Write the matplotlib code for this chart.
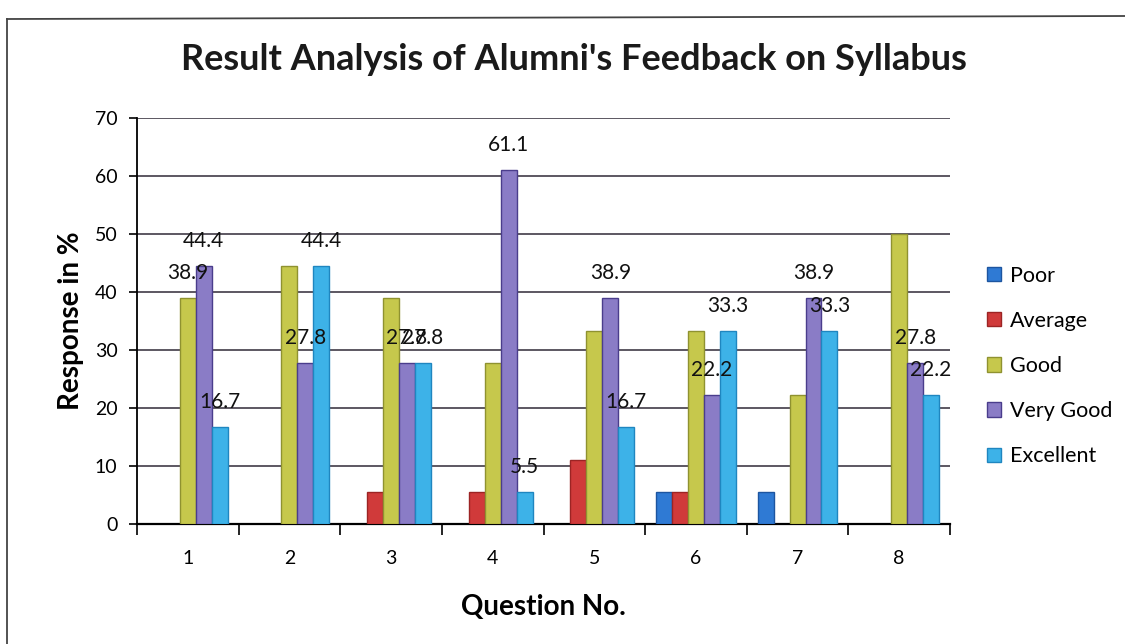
import matplotlib
matplotlib.use('Agg')
import matplotlib.pyplot as plt
from matplotlib.lines import Line2D
from matplotlib.patches import Patch

# ---------------- data ----------------
questions = ['1', '2', '3', '4', '5', '6', '7', '8']
series_names = ['Poor', 'Average', 'Good', 'Very Good', 'Excellent']
poor = [0, 0, 0, 0, 0, 5.5, 5.5, 0]
average = [0, 0, 5.5, 5.5, 11.1, 5.5, 0, 0]
good = [38.9, 44.4, 38.9, 27.8, 33.3, 33.3, 22.2, 50.0]
very_good = [44.4, 27.8, 27.8, 61.1, 38.9, 22.2, 38.9, 27.8]
excellent = [16.7, 44.4, 27.8, 5.5, 16.7, 33.3, 33.3, 22.2]
y_ticks = [0, 10, 20, 30, 40, 50, 60, 70]
# (question index, series name) pairs that carry a data label
labelled = [(0, 'Good'), (0, 'Very Good'), (0, 'Excellent'),
            (1, 'Very Good'), (1, 'Excellent'),
            (2, 'Very Good'), (2, 'Excellent'),
            (3, 'Very Good'), (3, 'Excellent'),
            (4, 'Very Good'), (4, 'Excellent'),
            (5, 'Very Good'), (5, 'Excellent'),
            (6, 'Very Good'), (6, 'Excellent'),
            (7, 'Very Good'), (7, 'Excellent')]

title = "Result Analysis of Alumni's Feedback on Syllabus"
x_label = 'Question No.'
y_label = 'Response in %'

# ---------------- style ----------------
values = {'Poor': poor, 'Average': average, 'Good': good,
          'Very Good': very_good, 'Excellent': excellent}
colors = {'Poor': '#2f7ad4', 'Average': '#d03a3a', 'Good': '#c6c84c',
          'Very Good': '#8a7cc6', 'Excellent': '#3db2e8'}
edges = {'Poor': '#1d55a0', 'Average': '#9c2424', 'Good': '#8f9230',
         'Very Good': '#4a3d8c', 'Excellent': '#1f86c0'}

FONT = 'Lato'
plt.rcParams['font.family'] = [FONT, 'DejaVu Sans']

W, H = 1125, 644
fig = plt.figure(figsize=(W / 100, H / 100), dpi=100)
fig.patch.set_facecolor('white')

ax = fig.add_axes([137 / W, 1 - 524 / H, 813 / W, 406 / H])

n = len(questions)
bw = 0.157
for k, name in enumerate(series_names):
    xs = [i + (k - 2) * bw for i in range(n)]
    lws = [1.0 if v > 0 else 0 for v in values[name]]
    ax.bar(xs, values[name], width=bw, color=colors[name],
           edgecolor=edges[name], linewidth=lws, zorder=3)

for qi, name in labelled:
    k = series_names.index(name)
    x = qi + (k - 2) * bw
    v = values[name][qi]
    ax.annotate(f'{v:.1f}', xy=(x, v), xytext=(0, 25), textcoords='offset pixels',
                ha='center', va='center', fontsize=15, color='#111111', zorder=5)

ax.set_xlim(-0.5, n - 0.5)
ax.set_ylim(0, 70)
ax.set_yticks(y_ticks)
ax.set_yticklabels([str(t) for t in y_ticks], fontsize=14)
ax.set_xticks(range(n))
ax.set_xticklabels(questions, fontsize=14)
ax.set_xticks([i + 0.5 for i in range(-1, n)], minor=True)
ax.tick_params(axis='x', which='major', length=0, pad=19)
ax.tick_params(axis='x', which='minor', length=8, width=1.2, direction='out')
ax.tick_params(axis='y', which='major', length=6, width=1.2, pad=8)

ax.yaxis.grid(True, color='#4f4a55', linewidth=1.3, zorder=0)
ax.set_axisbelow(True)
for s in ['top', 'right']:
    ax.spines[s].set_visible(False)
ax.spines['left'].set_linewidth(1.3)
ax.spines['bottom'].set_linewidth(1.6)

ax.set_xlabel(x_label, fontsize=20, fontweight='bold', labelpad=19)
ax.set_ylabel(y_label, fontsize=20, fontweight='bold', labelpad=8)

fig.text(574 / W, 1 - 60 / H, title, ha='center', va='center',
         fontsize=26, fontweight='bold', color='#1a1a1a')

handles = [Patch(facecolor=colors[nm], edgecolor=edges[nm], label=nm) for nm in series_names]
fig.legend(handles=handles, loc='center left', bbox_to_anchor=(968 / W, 1 - 366 / H),
           frameon=False, fontsize=15.5, handlelength=0.65, handleheight=0.65,
           handletextpad=0.4, labelspacing=1.17)

# outer chart border
fig.add_artist(Line2D([7 / W, 7 / W], [0, 1 - 19 / H], transform=fig.transFigure,
                      color='#444444', linewidth=1.3))
fig.add_artist(Line2D([7 / W, 1], [1 - 19 / H, 1 - 16 / H], transform=fig.transFigure,
                      color='#444444', linewidth=1.3))

fig.savefig('out.png', dpi=100)
